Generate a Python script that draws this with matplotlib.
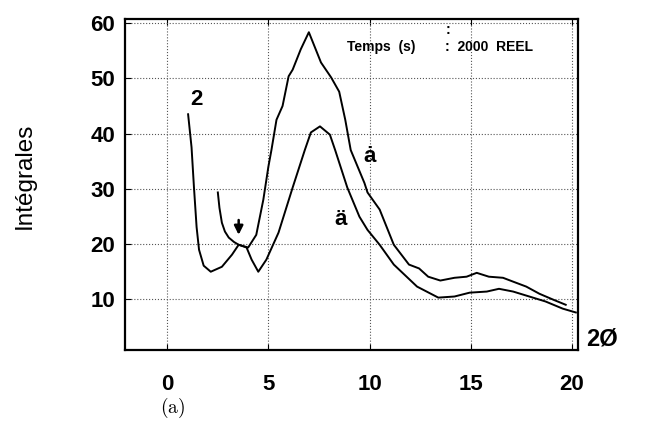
import numpy as np
import matplotlib
matplotlib.use('Agg')
from matplotlib import pyplot as plt

plt.rcParams['font.family'] = ['Liberation Sans', 'DejaVu Sans']
plt.rcParams['mathtext.fontset'] = 'cm'

# courbe basse (depart a "2")
x_bas = [1.03, 1.2, 1.32, 1.45, 1.57, 1.8, 2.15, 2.7, 3.2, 3.53, 3.92, 4.17, 4.5, 4.9,
         5.5, 6.2, 6.8, 7.1, 7.55, 8.04, 8.3, 8.9, 9.5, 9.9, 10.5, 11.2, 12.35, 13.4, 14.2,
         14.95, 15.8, 16.4, 17.1, 17.9, 18.7, 19.55, 20.2]
y_bas = [43.5, 37.5, 30.2, 23, 18.9, 16.0, 14.9, 15.8, 18.0, 19.8, 19.3, 17.1, 14.9, 17.1,
         22, 30.2, 37, 40.2, 41.3, 39.8, 37, 30.2, 24.9, 22.5, 19.8, 16.2, 12.2, 10.2, 10.4,
         11.1, 11.3, 11.8, 11.3, 10.4, 9.5, 8.2, 7.5]

# courbe haute
x_haut = [2.5, 2.58, 2.7, 2.85, 3.04, 3.3, 3.53, 4.0, 4.4, 4.75, 5.0, 5.15, 5.4, 5.7, 6.0,
          6.2, 6.6, 7.0, 7.6, 8.1, 8.5, 8.8, 9.07, 9.75, 9.9, 10.5, 11.2, 11.95, 12.45, 12.9,
          13.5, 14.2, 14.8, 15.3, 15.9, 16.6, 17.1, 17.75, 18.4, 19.1, 19.7]
y_haut = [29.3, 26.5, 23.8, 22.2, 21.1, 20.3, 19.8, 19.3, 21.6, 28, 34, 37, 42.5, 45, 50.4,
          51.6, 55.3, 58.4, 52.9, 50.2, 47.6, 42.5, 37, 31, 29.3, 26.2, 19.8, 16.2, 15.5, 14,
          13.3, 13.8, 14, 14.7, 14, 13.8, 13.1, 12.2, 10.9, 9.8, 8.9]

xticks = [0, 5, 10, 15, 20]
yticks = [10, 20, 30, 40, 50, 60]

fig = plt.figure(figsize=(6.5, 4.32), dpi=100)
ax = fig.add_axes([0.192, 0.19, 0.697, 0.766])

ax.plot(x_bas, y_bas, color='black', lw=1.4)
ax.plot(x_haut, y_haut, color='black', lw=1.4)

ax.set_xlim(-2.1, 20.3)
ax.set_ylim(0.7, 60.8)
ax.set_xticks(xticks)
ax.set_yticks(yticks)
ax.grid(True, linestyle=':', color='#555555', lw=0.8)
ax.tick_params(direction='in', top=True, length=4, labelsize=16)
ax.tick_params(axis='x', pad=17)
ax.tick_params(axis='y', pad=7)
for lab in ax.get_xticklabels() + ax.get_yticklabels():
    lab.set_fontweight('bold')
for s in ax.spines.values():
    s.set_linewidth(1.6)

fig.text(0.038, 0.593, 'Intégrales', fontsize=17.5, rotation=90, ha='center', va='center')

# annotations
ax.text(1.42, 46.2, '2', fontsize=16, fontweight='bold', ha='center', va='center')
ax.annotate('', xy=(3.53, 21.1), xytext=(3.53, 24.8),
            arrowprops=dict(arrowstyle='-|>', color='black', lw=1.8, mutation_scale=13))
ax.text(10.0, 35.8, 'ȧ', fontsize=16, fontweight='bold', ha='center', va='center')
ax.text(8.58, 24.4, 'ä', fontsize=16, fontweight='bold', ha='center', va='center')
ax.text(10.6, 55.8, 'Temps  (s)', fontsize=10, fontweight='bold', ha='center', va='center')
ax.text(13.75, 55.8, ':  2000  REEL', fontsize=10, fontweight='bold', ha='left', va='center')
ax.text(13.75, 58.8, ':', fontsize=10, fontweight='bold', ha='left', va='center')

fig.text(0.926, 0.215, '2Ø', fontsize=17, fontweight='bold', ha='center', va='center')
fig.text(0.265, 0.055, r'$\mathrm{(a)}$', fontsize=14, ha='center', va='center')

plt.savefig('out.png', dpi=100)
